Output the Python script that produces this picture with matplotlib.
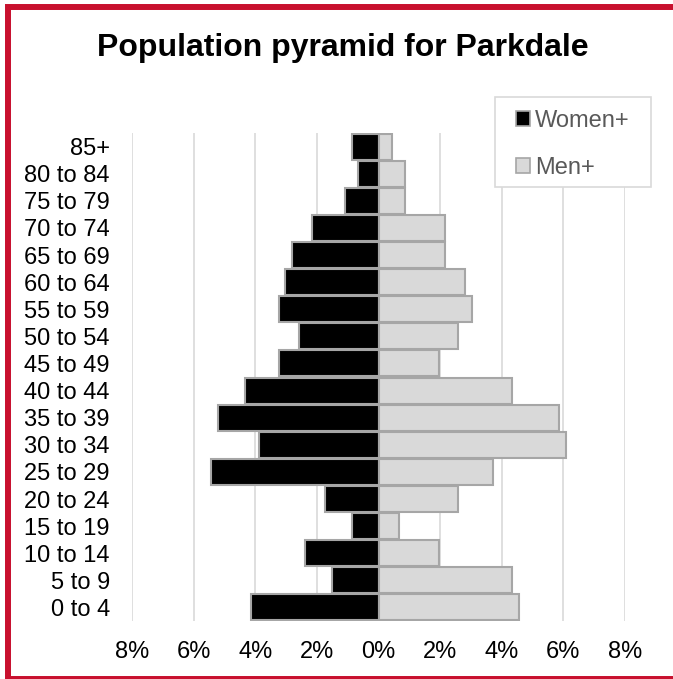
import matplotlib
matplotlib.use("Agg")
import matplotlib.pyplot as plt
from matplotlib.patches import Rectangle, Patch

plt.rcParams['font.family'] = ['Liberation Sans', 'DejaVu Sans']

age_groups = ["0 to 4", "5 to 9", "10 to 14", "15 to 19", "20 to 24", "25 to 29",
              "30 to 34", "35 to 39", "40 to 44", "45 to 49", "50 to 54", "55 to 59",
              "60 to 64", "65 to 69", "70 to 74", "75 to 79", "80 to 84", "85+"]
women = [4.13, 1.51, 2.38, 0.86, 1.73, 5.42, 3.89, 5.21, 4.32, 3.24, 2.59, 3.24,
         3.02, 2.81, 2.16, 1.08, 0.65, 0.86]
men = [4.56, 4.34, 1.95, 0.65, 2.59, 3.70, 6.08, 5.87, 4.34, 1.95, 2.59, 3.03,
       2.81, 2.16, 2.16, 0.87, 0.87, 0.43]
xticks = [-8, -6, -4, -2, 0, 2, 4, 6, 8]
title = "Population pyramid for Parkdale"
series_names = ["Women+", "Men+"]

W, H = 673, 679
fig = plt.figure(figsize=(W / 100, H / 100), dpi=100)

ax = fig.add_axes([132 / W, 1 - 621 / H, (625 - 132) / W, (621 - 133) / H])
y = list(range(len(age_groups)))
ax.barh(y, [-v for v in women], height=0.96, color="#000000", edgecolor="#a6a6a6",
        linewidth=1.5, zorder=3)
ax.barh(y, men, height=0.96, color="#d9d9d9", edgecolor="#a6a6a6",
        linewidth=1.5, zorder=3)

ax.set_xlim(-8, 8)
ax.set_ylim(-0.5, len(age_groups) - 0.5)
ax.set_xticks(xticks)
ax.set_xticklabels([f"{abs(t)}%" for t in xticks])
ax.set_yticks(y)
ax.set_yticklabels(age_groups)
ax.tick_params(axis="both", length=0, labelsize=17, colors="#000000")
ax.tick_params(axis="y", pad=16)
ax.tick_params(axis="x", pad=14.5)
ax.xaxis.grid(True, color="#d9d9d9", linewidth=1.2, zorder=0)
ax.set_axisbelow(True)
for s in ax.spines.values():
    s.set_visible(False)

# legend box
fig.patches.append(Rectangle((495 / W, 1 - 187 / H), (651 - 495) / W, (187 - 97) / H,
                             transform=fig.transFigure, facecolor="white",
                             edgecolor="#d9d9d9", linewidth=1.2, zorder=5))

handles = [Patch(facecolor="#000000", edgecolor="#a6a6a6", linewidth=1.2),
           Patch(facecolor="#d9d9d9", edgecolor="#a6a6a6", linewidth=1.2)]
leg = fig.legend(handles, series_names, loc="center left",
                 bbox_to_anchor=(516 / W, 1 - 144.5 / H), fontsize=17,
                 frameon=False, handlelength=0.6, handleheight=0.6,
                 handletextpad=0.2, labelspacing=1.05, borderpad=0,
                 borderaxespad=0)
leg.set_zorder(6)
for t in leg.get_texts():
    t.set_color("#595959")

fig.text(342.5 / W, 1 - 48 / H, title, ha="center", va="center",
         fontsize=23, fontweight="bold")

# red frame (right and bottom edges extend past the image)
fig.patches.append(Rectangle((8 / W, 0), (W + 10) / W, (H - 7) / H,
                             transform=fig.transFigure, fill=False,
                             edgecolor="#c8102e", linewidth=4.3, zorder=10))

fig.savefig("out.png", dpi=100)
